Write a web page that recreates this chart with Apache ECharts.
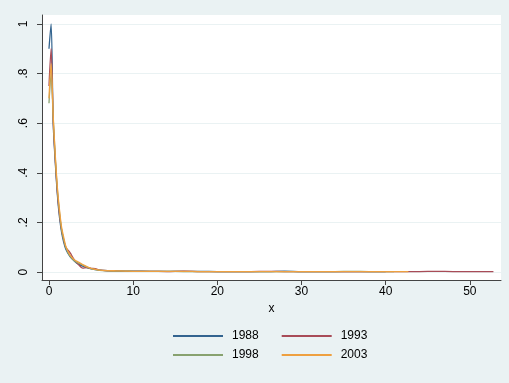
<!DOCTYPE html>
<html>
<head>
<meta charset="utf-8">
<script src="https://cdn.jsdelivr.net/npm/echarts@6/dist/echarts.min.js"></script>
<style>
  html, body { margin: 0; padding: 0; background: #eaf2f3; }
  #chart { width: 509px; height: 383px; }
</style>
</head>
<body>
<div id="chart"></div>
<script>
// Shared x grid for the decay curves
const xGrid = [0, 0.25, 0.5, 0.75, 1, 1.25, 1.5, 1.75, 2, 2.5, 3, 3.5, 4, 4.5, 5, 5.5, 6, 7, 8, 9, 10,
  12, 14, 16, 18, 20, 22, 24, 26, 28, 30, 32, 34, 36, 38, 40];

const y1988 = [0.90, 1.00, 0.60, 0.44, 0.31, 0.22, 0.16, 0.12, 0.092, 0.062, 0.045, 0.032, 0.024, 0.018, 0.013, 0.010, 0.008, 0.006, 0.005, 0.004, 0.004,
  0.003, 0.003, 0.003, 0.003, 0.002, 0.002, 0.002, 0.002, 0.004, 0.002, 0.002, 0.002, 0.002, 0.002, 0.002];
const y1993 = [0.75, 0.90, 0.61, 0.45, 0.32, 0.23, 0.17, 0.13, 0.100, 0.078, 0.050, 0.030, 0.016, 0.018, 0.015, 0.014, 0.008, 0.005, 0.004, 0.003, 0.003,
  0.003, 0.002, 0.004, 0.002, 0.002, 0.002, 0.002, 0.003, 0.002, 0.002, 0.002, 0.002, 0.002, 0.002, 0.002];
const y1998 = [0.68, 0.80, 0.62, 0.46, 0.33, 0.24, 0.17, 0.13, 0.098, 0.064, 0.046, 0.036, 0.028, 0.020, 0.014, 0.010, 0.007, 0.005, 0.004, 0.004, 0.003,
  0.003, 0.003, 0.002, 0.002, 0.002, 0.002, 0.002, 0.002, 0.002, 0.002, 0.002, 0.002, 0.003, 0.002, 0.002];
const y2003 = [0.70, 0.84, 0.63, 0.47, 0.34, 0.25, 0.18, 0.14, 0.104, 0.068, 0.050, 0.040, 0.030, 0.022, 0.015, 0.011, 0.008, 0.006, 0.005, 0.004, 0.003,
  0.003, 0.003, 0.003, 0.002, 0.002, 0.002, 0.002, 0.002, 0.002, 0.002, 0.002, 0.002, 0.002, 0.002, 0.002];

// Tails that run past the shared grid
const tail1998X = [41];
const tail1998Y = [0.002];
const tail2003X = [42.7];
const tail2003Y = [0.002];
const tail1993X = [42, 44, 46, 48, 50, 52.8];
const tail1993Y = [0.002, 0.002, 0.003, 0.002, 0.002, 0.002];

const years = ['1988', '1993', '1998', '2003'];
const colors = ['#33648f', '#a84c57', '#88a26f', '#eea040'];

const xTicks = [0, 10, 20, 30, 40, 50];
const yTicks = [0, 0.2, 0.4, 0.6, 0.8, 1];
const yTickText = ['0', '.2', '.4', '.6', '.8', '1'];

function pairs(xs, ys, tx, ty) {
  const out = xs.map((x, i) => [x, ys[i]]);
  (tx || []).forEach((x, i) => out.push([x, ty[i]]));
  return out;
}

const seriesData = [
  pairs(xGrid, y1988),
  pairs(xGrid, y1993, tail1993X, tail1993Y),
  pairs(xGrid, y1998, tail1998X, tail1998Y),
  pairs(xGrid, y2003, tail2003X, tail2003Y)
];

const font = '"Liberation Sans", Arial, sans-serif';
const chart = echarts.init(document.getElementById('chart'));

const legendRow = (names, top) => ({
  data: names, left: 173, top: top, padding: 0, icon: 'rect',
  itemWidth: 50, itemHeight: 2, itemGap: 23,
  textStyle: { color: '#000', fontSize: 12, fontFamily: font, padding: [0, 0, 0, 4] }
});

chart.setOption({
  backgroundColor: '#eaf2f3',
  animation: false,
  grid: {
    left: 42, right: 8, top: 15, bottom: 103,
    show: true, backgroundColor: '#ffffff', borderWidth: 0
  },
  xAxis: {
    type: 'value',
    min: -0.83, max: 53.7,
    name: 'x', nameLocation: 'middle', nameGap: 20,
    nameTextStyle: { color: '#000', fontSize: 12, fontFamily: font },
    axisLine: { show: true, onZero: false, lineStyle: { color: '#444', width: 1 } },
    axisTick: { show: true, length: 5, customValues: xTicks, lineStyle: { color: '#444' } },
    axisLabel: { customValues: xTicks, margin: 6, color: '#000', fontSize: 12, fontFamily: font },
    splitLine: { show: false }
  },
  yAxis: {
    type: 'value',
    min: -0.032, max: 1.036,
    axisLine: { show: true, onZero: false, lineStyle: { color: '#444', width: 1 } },
    axisTick: { show: true, length: 5, customValues: yTicks, lineStyle: { color: '#444' } },
    axisLabel: {
      customValues: yTicks, rotate: 90, margin: 12, color: '#000', fontSize: 12, fontFamily: font,
      formatter: v => yTickText[yTicks.findIndex(t => Math.abs(t - v) < 1e-6)]
    },
    splitLine: { show: true, lineStyle: { color: '#eaf2f3', width: 1 } }
  },
  legend: [legendRow([years[0], years[1]], 330), legendRow([years[2], years[3]], 349)],
  series: years.map((name, i) => ({
    name: name,
    type: 'line',
    data: seriesData[i],
    symbol: 'none',
    smooth: 0.3,
    color: colors[i],
    lineStyle: { color: colors[i], width: 1.3 }
  }))
});
</script>
</body>
</html>
